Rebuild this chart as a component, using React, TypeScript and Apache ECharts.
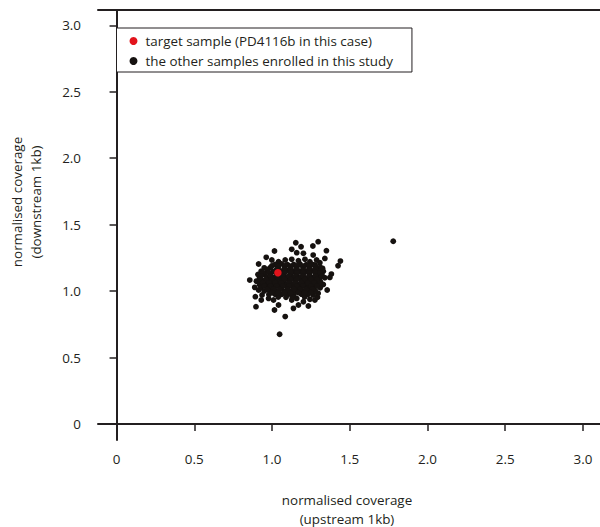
import React, { useEffect, useRef } from "react";
import * as echarts from "echarts";

const targetName = "target sample (PD4116b in this case)";
const otherName = "the other samples enrolled in this study";

const xTickValues = [0, 0.5, 1.0, 1.5, 2.0, 2.5, 3.0];
const xTickLabels = ["0", "0.5", "1.0", "1.5", "2.0", "2.5", "3.0"];
const yTickValues = [0, 0.5, 1.0, 1.5, 2.0, 2.5, 3.0];
const yTickLabels = ["0", "0.5", "1.0", "1.5", "2.0", "2.5", "3.0"];

const targetSample = [[1.038, 1.138]];

const outerSamples = [
  [1.153, 1.364], [1.187, 1.334], [1.263, 1.339], [1.297, 1.372], [1.35, 1.304],
  [1.127, 1.314], [1.159, 1.289], [1.202, 1.284], [1.265, 1.271], [1.016, 1.302],
  [0.963, 1.254], [0.999, 1.234], [0.914, 1.204], [0.857, 1.083], [0.889, 1.028],
  [0.893, 0.958], [0.897, 0.883], [0.931, 0.933], [1.016, 0.858], [1.042, 0.895],
  [1.085, 0.808], [1.049, 0.675], [1.138, 0.87], [1.17, 0.895], [1.234, 0.888],
  [1.276, 0.933], [1.293, 0.953], [1.355, 1.008], [1.382, 1.128], [1.372, 1.103],
  [1.425, 1.191], [1.44, 1.226], [1.34, 1.246], [1.308, 1.214], [1.287, 1.234],
  [1.325, 1.171], [1.78, 1.375],
  [0.978, 0.945], [1.01, 0.933], [1.127, 0.933], [1.159, 0.945], [1.202, 0.92],
  [1.244, 0.938], [1.265, 0.971], [1.297, 0.983], [0.936, 0.971], [0.914, 1.008],
  [1.042, 1.221], [1.085, 1.234], [1.127, 1.239], [1.17, 1.229], [1.212, 1.239],
  [1.244, 1.221], [1.276, 1.196],
];

const coreSamples = [
  [1.02, 1.2], [1.06, 1.205], [1.1, 1.198], [1.14, 1.2], [1.18, 1.203], [1.22, 1.198], [1.26, 1.2],
  [0.95, 1.175], [0.99, 1.178], [1.04, 1.175], [1.08, 1.172], [1.12, 1.176], [1.16, 1.175], [1.2, 1.178], [1.24, 1.174], [1.28, 1.176], [1.31, 1.18],
  [0.93, 1.15], [0.97, 1.152], [1.01, 1.148], [1.06, 1.15], [1.1, 1.153], [1.14, 1.15], [1.18, 1.147], [1.22, 1.15], [1.26, 1.152], [1.3, 1.149], [1.33, 1.15],
  [0.91, 1.125], [0.95, 1.127], [0.99, 1.124], [1.03, 1.125], [1.07, 1.126], [1.12, 1.125], [1.16, 1.123], [1.2, 1.127], [1.24, 1.125], [1.28, 1.124], [1.32, 1.126],
  [0.92, 1.1], [0.97, 1.102], [1.01, 1.1], [1.05, 1.098], [1.09, 1.1], [1.13, 1.101], [1.18, 1.1], [1.22, 1.098], [1.26, 1.1], [1.3, 1.102], [1.34, 1.1],
  [0.9, 1.075], [0.94, 1.077], [0.98, 1.074], [1.02, 1.075], [1.07, 1.076], [1.11, 1.075], [1.15, 1.073], [1.19, 1.075], [1.23, 1.077], [1.27, 1.075], [1.31, 1.074],
  [0.92, 1.05], [0.96, 1.052], [1.0, 1.05], [1.04, 1.048], [1.09, 1.05], [1.13, 1.051], [1.17, 1.05], [1.21, 1.048], [1.25, 1.05], [1.29, 1.052], [1.33, 1.05],
  [0.93, 1.025], [0.97, 1.027], [1.01, 1.024], [1.06, 1.025], [1.1, 1.026], [1.14, 1.025], [1.18, 1.023], [1.23, 1.025], [1.27, 1.027], [1.31, 1.025],
  [0.95, 1.0], [0.99, 1.002], [1.03, 1.0], [1.08, 0.998], [1.12, 1.0], [1.16, 1.001], [1.2, 1.0], [1.24, 0.998], [1.28, 1.0],
  [0.98, 0.975], [1.02, 0.977], [1.06, 0.975], [1.1, 0.973], [1.14, 0.975], [1.19, 0.977], [1.23, 0.975],
  [1.04, 0.955], [1.09, 0.953], [1.13, 0.956], [1.21, 0.955],
];

const fillSamples = [
  [1.0, 1.19], [1.04, 1.188], [1.08, 1.19], [1.12, 1.187], [1.16, 1.19], [1.2, 1.188], [1.24, 1.19], [1.28, 1.187],
  [0.97, 1.163], [1.03, 1.162], [1.08, 1.165], [1.12, 1.162], [1.16, 1.163], [1.2, 1.161], [1.24, 1.163], [1.28, 1.164], [1.32, 1.162],
  [0.94, 1.138], [0.98, 1.14], [1.08, 1.137], [1.12, 1.139], [1.16, 1.137], [1.2, 1.14], [1.24, 1.137], [1.28, 1.139], [1.31, 1.137],
  [0.93, 1.113], [0.99, 1.112], [1.03, 1.113], [1.07, 1.111], [1.11, 1.113], [1.15, 1.112], [1.2, 1.113], [1.24, 1.111], [1.28, 1.113], [1.32, 1.112],
  [0.92, 1.088], [0.96, 1.087], [1.0, 1.089], [1.04, 1.087], [1.08, 1.088], [1.12, 1.087], [1.16, 1.089], [1.21, 1.087], [1.25, 1.088], [1.29, 1.087],
  [0.94, 1.063], [0.98, 1.062], [1.02, 1.063], [1.06, 1.061], [1.11, 1.063], [1.15, 1.062], [1.19, 1.063], [1.23, 1.061], [1.27, 1.063], [1.31, 1.062],
  [0.95, 1.038], [0.99, 1.037], [1.03, 1.038], [1.07, 1.036], [1.11, 1.038], [1.16, 1.037], [1.2, 1.038], [1.25, 1.037], [1.29, 1.038],
  [0.97, 1.012], [1.01, 1.013], [1.05, 1.011], [1.1, 1.012], [1.14, 1.013], [1.18, 1.011], [1.22, 1.012], [1.26, 1.013],
  [1.0, 0.988], [1.04, 0.987], [1.08, 0.988], [1.12, 0.986], [1.17, 0.988], [1.21, 0.987], [1.25, 0.988],
];

const otherSamples = [...outerSamples, ...coreSamples, ...fillSamples];

const INK = "#231f20";
const FONT = "Open Sans";

export default function App() {
  const ref = useRef<HTMLDivElement>(null);

  useEffect(() => {
    if (!ref.current) return;
    const chart = echarts.init(ref.current, null, { renderer: "svg" });
    const lookup = (vals: number[], labels: string[]) => (v: number) => {
      const i = vals.findIndex((t) => Math.abs(t - v) < 1e-6);
      return i >= 0 ? labels[i] : "";
    };
    chart.setOption({
      animation: false,
      backgroundColor: "#ffffff",
      textStyle: { fontFamily: FONT },
      grid: { left: 98, top: 10, right: -4, bottom: 87, containLabel: false },
      legend: {
        orient: "vertical",
        left: 116.5,
        top: 28,
        data: [targetName, otherName],
        icon: "circle",
        itemWidth: 14,
        itemHeight: 8,
        itemGap: 6,
        padding: [6, 19, 4, 13],
        borderColor: INK,
        borderWidth: 1,
        borderRadius: 0,
        backgroundColor: "#ffffff",
        selectedMode: false,
        textStyle: { fontSize: 13.4, color: INK, fontFamily: FONT, lineHeight: 14 },
        z: 10,
      },
      xAxis: [
        {
          type: "value",
          min: -0.1193,
          max: 3.11,
          position: "bottom",
          splitLine: { show: false },
          axisLine: { show: true, lineStyle: { color: INK, width: 2 } },
          axisTick: {
            show: true,
            customValues: xTickValues,
            length: 7,
            lineStyle: { color: INK, width: 1.5 },
          },
          axisLabel: {
            customValues: xTickValues,
            margin: 12,
            fontSize: 13.4,
            color: INK,
            fontFamily: FONT,
            formatter: lookup(xTickValues, xTickLabels),
          },
        },
        {
          type: "value",
          min: -0.1193,
          max: 3.11,
          position: "top",
          splitLine: { show: false },
          axisLine: { show: true, lineStyle: { color: INK, width: 2 } },
          axisTick: { show: false },
          axisLabel: { show: false },
        },
      ],
      yAxis: {
        type: "value",
        min: -0.1204,
        max: 3.115,
        splitLine: { show: false },
        axisLine: { show: true, lineStyle: { color: INK, width: 2 } },
        axisTick: {
          show: true,
          customValues: yTickValues,
          length: 7,
          lineStyle: { color: INK, width: 1.5 },
        },
        axisLabel: {
          customValues: yTickValues,
          margin: 17,
          fontSize: 13.4,
          color: INK,
          fontFamily: FONT,
          formatter: lookup(yTickValues, yTickLabels),
        },
      },
      graphic: [
        {
          type: "text",
          x: 347,
          y: 509,
          style: {
            text: "normalised coverage\n(upstream 1kb)",
            fontSize: 13.4,
            lineHeight: 19,
            fill: INK,
            fontFamily: FONT,
            textAlign: "center",
            textVerticalAlign: "middle",
          },
        },
        {
          type: "text",
          x: 26.5,
          y: 202,
          rotation: Math.PI / 2,
          style: {
            text: "normalised coverage\n(downstream 1kb)",
            fontSize: 13.4,
            lineHeight: 19,
            fill: INK,
            fontFamily: FONT,
            textAlign: "center",
            textVerticalAlign: "middle",
          },
        },
      ],
      series: [
        {
          name: otherName,
          type: "scatter",
          symbol: "circle",
          symbolSize: 5.8,
          itemStyle: { color: "#161210", opacity: 1 },
          data: otherSamples,
          z: 2,
        },
        {
          name: targetName,
          type: "scatter",
          symbol: "circle",
          symbolSize: 7.5,
          itemStyle: { color: "#e2141c", opacity: 1 },
          data: targetSample,
          z: 3,
        },
      ],
    });
    return () => chart.dispose();
  }, []);

  return (
    <div
      ref={ref}
      style={{ position: "absolute", left: 0, top: 0, width: 600, height: 527, background: "#fff" }}
    />
  );
}
